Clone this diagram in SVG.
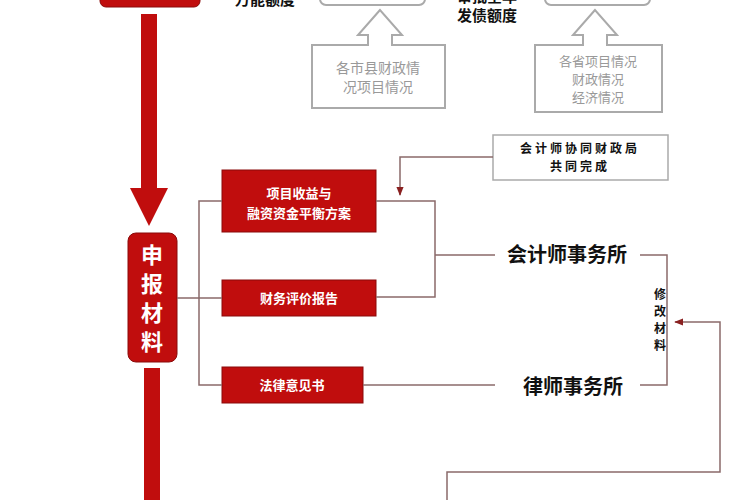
<svg xmlns="http://www.w3.org/2000/svg" width="750" height="500" viewBox="0 0 750 500">
<defs>
<style>
.rb{fill:#c00d0d;stroke:#8a0a0a;stroke-width:1}
.wt{fill:#fff;font-family:"Noto Sans CJK SC",sans-serif;font-size:13px;font-weight:bold;text-anchor:middle}
.gt{fill:#999;font-family:"Noto Sans CJK SC",sans-serif;font-size:14px;text-anchor:middle}
.bt{fill:#111;font-family:"Noto Sans CJK SC",sans-serif;font-weight:bold;text-anchor:middle}
.ln{fill:none;stroke:#8a6a6a;stroke-width:1.5}
.gb{fill:#fff;stroke:#aaa;stroke-width:2}
</style>
<marker id="ah" viewBox="0 0 10 10" refX="9" refY="5" markerWidth="6" markerHeight="6" orient="auto"><path d="M0,1L10,5L0,9z" fill="#8a2020"/></marker>
</defs>
<rect width="750" height="500" fill="#fff"/>
<g id="top">
<rect x="100" y="-20" width="100" height="27" rx="6" class="rb"/>
<text x="265" y="5" class="bt" font-size="15">万能额度</text>
<rect x="320" y="-20" width="105" height="25" rx="6" class="gb"/>
<rect x="545" y="-20" width="105" height="25" rx="6" class="gb"/>
<text x="487" y="2" class="bt" font-size="15">审批全年</text>
<text x="487" y="21" class="bt" font-size="15">发债额度</text>
</g>
<g id="src1">
<path d="M380,10 L358,35 L368,35 L368,45 L312,45 L312,108 L445,108 L445,45 L392,45 L392,35 L402,35 Z" class="gb"/>
<text x="378" y="73" class="gt">各市县财政情</text>
<text x="378" y="92" class="gt">况项目情况</text>
</g>
<g id="src2">
<path d="M595,10 L573,35 L583,35 L583,45 L535,45 L535,112 L662,112 L662,45 L607,45 L607,35 L617,35 Z" class="gb"/>
<text x="598" y="66" class="gt" style="font-size:13px">各省项目情况</text>
<text x="598" y="84" class="gt" style="font-size:13px">财政情况</text>
<text x="598" y="102" class="gt" style="font-size:13px">经济情况</text>
</g>
<g id="mainflow">
<rect x="141" y="14" width="16" height="176" fill="#c00d0d"/>
<path d="M130,188 L168,188 L149,226 Z" fill="#c00d0d"/>
<rect x="144" y="368" width="16" height="132" fill="#c00d0d"/>
</g>
<g id="shenbao">
<rect x="128" y="233" width="49" height="129" rx="8" class="rb"/>
<text x="152" y="263" class="wt" style="font-size:22px">申</text>
<text x="152" y="292" class="wt" style="font-size:22px">报</text>
<text x="152" y="321" class="wt" style="font-size:22px">材</text>
<text x="152" y="350" class="wt" style="font-size:22px">料</text>
</g>
<g id="n1"><rect x="222" y="170" width="154" height="62" class="rb"/>
<text x="299" y="198" class="wt">项目收益与</text><text x="299" y="218" class="wt">融资资金平衡方案</text></g>
<g id="n2"><rect x="222" y="280" width="154" height="36" class="rb"/>
<text x="299" y="303" class="wt">财务评价报告</text></g>
<g id="n3"><rect x="222" y="367" width="141" height="36" class="rb"/>
<text x="292" y="390" class="wt">法律意见书</text></g>
<g id="coop"><rect x="493" y="135" width="175" height="45" class="gb" style="stroke-width:1.5"/>
<text x="580" y="153" class="bt" font-size="12" letter-spacing="3">会计师协同财政局</text>
<text x="580" y="171" class="bt" font-size="12" letter-spacing="3">共同完成</text></g>
<g id="kuaiji"><text x="567" y="262" class="bt" font-size="20">会计师事务所</text></g>
<g id="lvshi"><text x="573" y="394" class="bt" font-size="20">律师事务所</text></g>
<g id="xiugai">
<text x="660" y="299" class="bt" font-size="12">修</text>
<text x="660" y="316" class="bt" font-size="12">改</text>
<text x="660" y="333" class="bt" font-size="12">材</text>
<text x="660" y="350" class="bt" font-size="12">料</text>
</g>
<g id="connectors">
<path class="ln" d="M222,201 H199 V385 H222 M177,298 H222"/>
<path class="ln" d="M376,201 H435 V297 H376 M435,255 H495"/>
<path class="ln" d="M363,385 H495"/>
<path class="ln" d="M640,255 H667 V385 H640"/>
<path class="ln" d="M493,157 H400 V195" marker-end="url(#ah)"/>
<path class="ln" d="M447,500 V472 H720 V322 H675" marker-end="url(#ah)"/>
</g>
</svg>
